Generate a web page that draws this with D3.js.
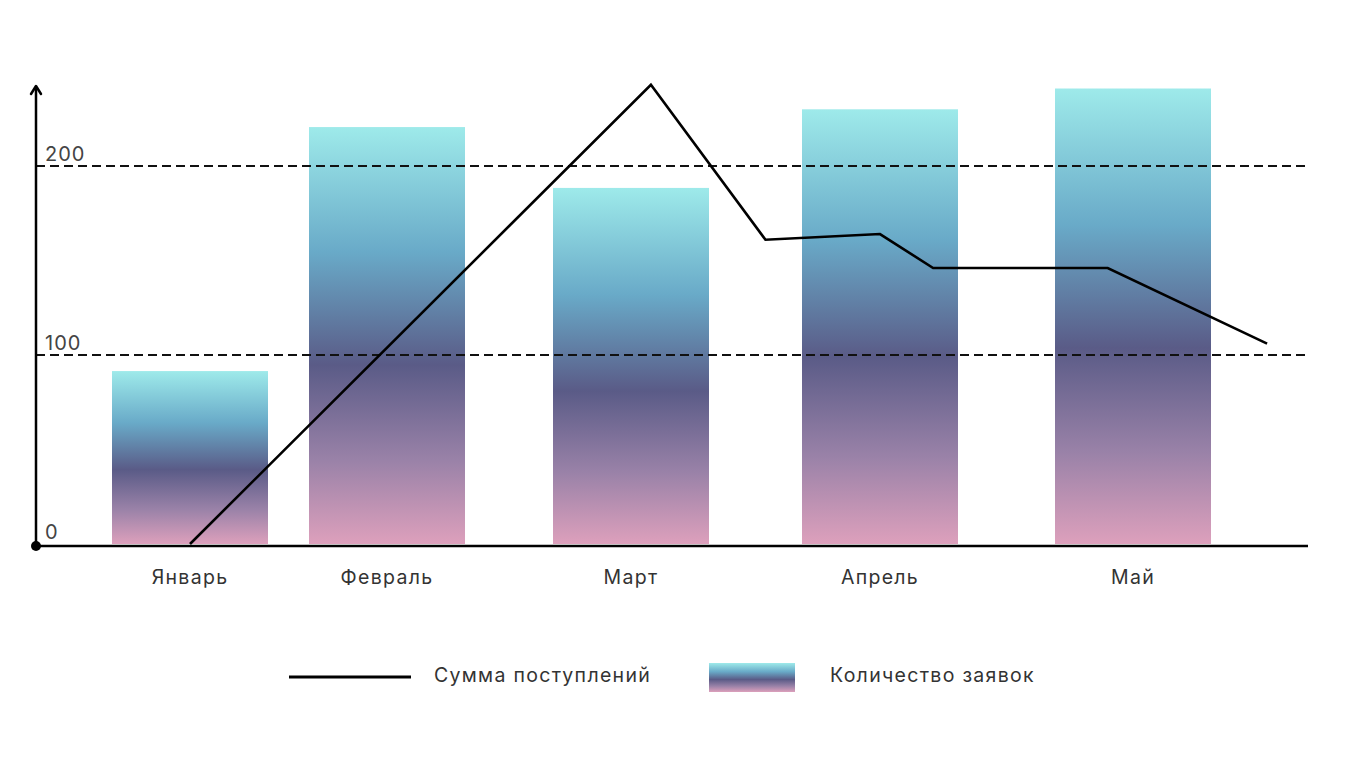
<!DOCTYPE html>
<html><head><meta charset="utf-8">
<script src="https://cdn.jsdelivr.net/npm/d3@7"></script>
<style>html,body{margin:0;padding:0;background:#fff;}svg{display:block;font-family:Inter,"Noto Sans",sans-serif;}</style>
</head><body>
<svg id="chart" width="1360" height="765"></svg>
<script>
const categories = ["Январь","Февраль","Март","Апрель","Май"];
const requests = [91.5, 220.6, 188.4, 230, 241];           // Количество заявок (bars)
const incomeX = [0, 2.08, 2.54, 3, 3.21, 3.9, 4.53];       // Сумма поступлений: position in month units
const incomeY = [0, 243, 161, 164, 146, 146, 106];
const yTicks = [0, 100, 200];
const legendLabels = ["Сумма поступлений","Количество заявок"];

const svg = d3.select("#chart");
const x = d3.scaleLinear().domain(d3.range(categories.length)).range([190, 387, 631, 880, 1133]);
const y = d3.scaleLinear().domain([0, 200]).range([544, 166]);
const barW = 156;

const defs = svg.append("defs");
const grad = defs.append("linearGradient").attr("id","barGrad").attr("x1",0).attr("y1",0).attr("x2",0).attr("y2",1);
[[0,"#9eeaea"],[0.3,"#69aac8"],[0.57,"#5a5b87"],[0.8,"#9a82a8"],[1,"#dda0bc"]].forEach(([o,c])=>
  grad.append("stop").attr("offset",o).attr("stop-color",c));

// bars
svg.append("g").selectAll("rect").data(requests).join("rect")
  .attr("x",(d,i)=>x(i)-barW/2).attr("width",barW)
  .attr("y",d=>y(d)).attr("height",d=>y(0)-y(d))
  .attr("fill","url(#barGrad)");

// gridlines
const axisLeft = 36, axisRight = 1308;
svg.append("g").selectAll("line").data(yTicks.filter(t=>t>0)).join("line")
  .attr("x1",axisLeft).attr("x2",axisRight).attr("y1",d=>y(d)).attr("y2",d=>y(d))
  .attr("stroke","#111").attr("stroke-width",2.2).attr("stroke-dasharray","9,5");

// tick labels
svg.append("g").selectAll("text").data(yTicks).join("text")
  .attr("x",45).attr("y",d=>y(d)-5).text(d=>d)
  .attr("font-size",20).attr("letter-spacing",1).attr("fill","#444");

// x axis
const y0 = y(0)+2;
svg.append("line").attr("x1",axisLeft).attr("x2",axisRight).attr("y1",y0).attr("y2",y0)
  .attr("stroke","#000").attr("stroke-width",2.5);
// y axis
svg.append("line").attr("x1",axisLeft).attr("x2",axisLeft).attr("y1",y0).attr("y2",88)
  .attr("stroke","#000").attr("stroke-width",2.5);
svg.append("path").attr("d",`M${axisLeft-5},${94} L${axisLeft},${86} L${axisLeft+5},${94}`)
  .attr("fill","none").attr("stroke","#000").attr("stroke-width",2.5).attr("stroke-linecap","round").attr("stroke-linejoin","round");
svg.append("circle").attr("cx",axisLeft).attr("cy",y0).attr("r",5).attr("fill","#000");

// category labels
svg.append("g").selectAll("text").data(categories).join("text")
  .attr("x",(d,i)=>x(i)).attr("y",584).attr("text-anchor","middle")
  .attr("font-size",19.5).attr("letter-spacing",1.3).attr("fill","#333").text(d=>d);

// line
const pts = incomeX.map((v,i)=>[x(v), y(incomeY[i])]);
svg.append("path").attr("d", d3.line()(pts))
  .attr("fill","none").attr("stroke","#000").attr("stroke-width",2.6).attr("stroke-linejoin","miter");

// legend
svg.append("line").attr("x1",289).attr("x2",411).attr("y1",677).attr("y2",677)
  .attr("stroke","#000").attr("stroke-width",3);
svg.append("text").attr("x",434).attr("y",682).attr("font-size",19.5).attr("letter-spacing",1.3).attr("fill","#333").text(legendLabels[0]);
svg.append("rect").attr("x",709).attr("y",663).attr("width",86).attr("height",29).attr("fill","url(#barGrad)");
svg.append("text").attr("x",830).attr("y",682).attr("font-size",19.5).attr("letter-spacing",1.3).attr("fill","#333").text(legendLabels[1]);
</script>
</body></html>
